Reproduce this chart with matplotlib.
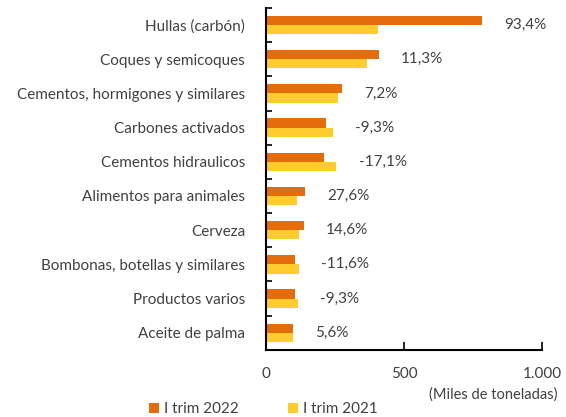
import matplotlib
matplotlib.use("Agg")
import matplotlib.pyplot as plt
import numpy as np

categorias = ["Hullas (carbón)", "Coques y semicoques", "Cementos, hormigones y similares",
              "Carbones activados", "Cementos hidraulicos", "Alimentos para animales",
              "Cerveza", "Bombonas, botellas y similares", "Productos varios", "Aceite de palma"]
trim_2022 = [783, 408, 276, 218, 209, 140, 137, 106, 104, 99]
trim_2021 = [405, 367, 259, 243, 255, 111, 120, 120, 116, 96]
variacion = ["93,4%", "11,3%", "7,2%", "-9,3%", "-17,1%", "27,6%", "14,6%", "-11,6%", "-9,3%", "5,6%"]

naranja = "#E46C0A"
amarillo = "#FFCC2E"
gris = "#404040"

plt.rcParams["font.family"] = ["Lato", "DejaVu Sans"]

fig = plt.figure(figsize=(5.66, 4.17), dpi=100)
ax = fig.add_axes([0.47, 0.161, 0.488, 0.82])

y = np.arange(len(categorias))
h = 0.27
ax.barh(y - h / 2, trim_2022, height=h, color=naranja, label="I trim 2022")
ax.barh(y + h / 2, trim_2021, height=h, color=amarillo, label="I trim 2021")

# etiquetas de variacion a la derecha de cada grupo
for i, txt in enumerate(variacion):
    xm = max(trim_2022[i], trim_2021[i])
    ax.annotate(txt, (xm, y[i]), xytext=(16, 0), textcoords="offset points",
                va="center", ha="left", fontsize=11, color=gris)

ax.set_xlim(0, 1000)
ax.set_ylim(len(categorias) - 0.5, -0.5)
ax.set_yticks(y)
ax.set_yticklabels(categorias, fontsize=11, color=gris)
ax.set_yticks(np.arange(-0.5, len(categorias), 1), minor=True)
ax.tick_params(axis="y", which="major", length=0, pad=15)
ax.tick_params(axis="y", which="minor", direction="in", length=4, width=1.2, color="black")
ax.set_xticks([0, 500, 1000])
ax.set_xticklabels(["0", "500", "1.000"], fontsize=11, color=gris)
ax.tick_params(axis="x", direction="in", length=6, width=1.2, pad=12)

for s in ["top", "right"]:
    ax.spines[s].set_visible(False)
for s in ["left", "bottom"]:
    ax.spines[s].set_linewidth(1.5)
    ax.spines[s].set_color("black")

fig.text(0.985, 0.055, "(Miles de toneladas)", ha="right", va="center", fontsize=10.5, color=gris)

leg = fig.legend(loc="center", bbox_to_anchor=(0.465, 0.018), ncol=2, frameon=False,
                 fontsize=11, handlelength=0.7, handleheight=0.7, handletextpad=0.3,
                 columnspacing=3.2, labelcolor=gris)

fig.savefig("out.png", dpi=100)
